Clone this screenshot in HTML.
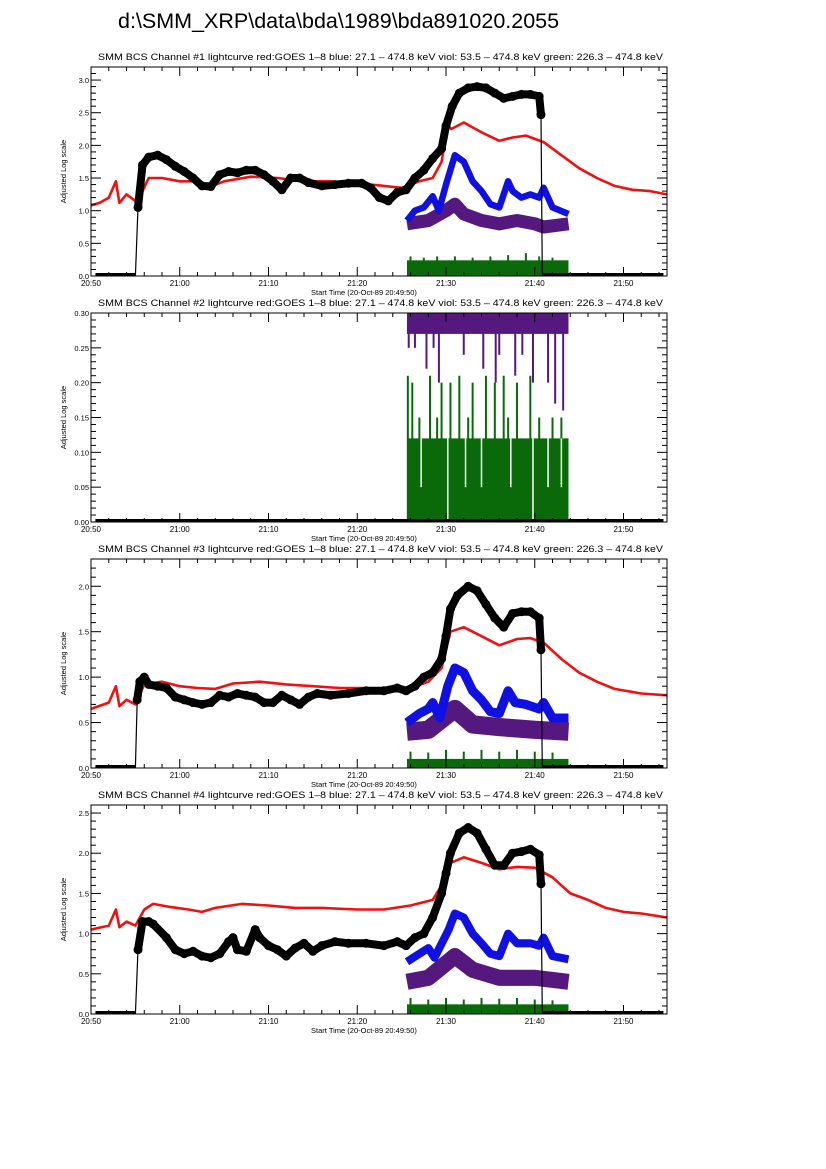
<!DOCTYPE html>
<html><head><meta charset="utf-8"><style>
html,body{margin:0;padding:0;background:#fff;}
svg{display:block;font-family:"Liberation Sans",sans-serif;}
</style></head><body>
<svg id="fig" width="826" height="1169" viewBox="0 0 826 1169" xmlns="http://www.w3.org/2000/svg">
<text x="118" y="28" font-size="21.5" fill="#000">d:\SMM_XRP\data\bda\1989\bda891020.2055</text>
</svg>
<script>
// ---- data (t = minutes after 20:50) ----
const xTickLabels = ["20:50","21:00","21:10","21:20","21:30","21:40","21:50"];
const panelTitles = ["SMM BCS Channel #1 lightcurve","SMM BCS Channel #2 lightcurve","SMM BCS Channel #3 lightcurve","SMM BCS Channel #4 lightcurve"];
const panelYMax = [3.2, 0.3, 2.3, 2.6];
const panelYStep = [0.5, 0.05, 0.5, 0.5];

const black1 = [[0.5,0],[5,0],[5.3,1.05],[5.8,1.7],[6.5,1.82],[7.5,1.85],[8.5,1.78],[9.5,1.68],[10.5,1.6],[11.5,1.5],[12.5,1.38],[13.5,1.37],[14.5,1.55],[15.5,1.6],[16.5,1.58],[17.5,1.62],[18.5,1.62],[19.5,1.55],[20.5,1.45],[21.5,1.32],[22.5,1.5],[23.5,1.5],[24.5,1.43],[26,1.38],[27.5,1.4],[29,1.42],[30.5,1.42],[31.5,1.35],[32.5,1.2],[33.5,1.15],[34.5,1.28],[35.5,1.32],[36.5,1.5],[37.5,1.62],[38.5,1.8],[39.5,1.95],[40,2.3],[40.7,2.6],[41.5,2.8],[42.5,2.88],[43.5,2.9],[44.5,2.88],[45.5,2.8],[46.5,2.72],[47.5,2.75],[48.5,2.78],[49.5,2.78],[50.5,2.75],[50.7,2.47],[50.85,0],[64.5,0]];
const red1 = [[0,1.08],[1,1.12],[2,1.2],[2.8,1.45],[3.2,1.12],[4,1.25],[5,1.15],[5.8,1.3],[6.5,1.5],[8,1.5],[10,1.45],[12,1.45],[13.5,1.37],[15,1.45],[18,1.52],[21,1.5],[24,1.45],[27,1.45],[30,1.42],[33,1.38],[35,1.35],[37,1.45],[38.5,1.5],[39.5,1.75],[40.2,2.3],[40.6,2.25],[42,2.35],[44,2.2],[46,2.07],[47.5,2.12],[49,2.15],[51,2.05],[53,1.85],[55,1.65],[57,1.5],[59,1.38],[61,1.32],[63,1.3],[64.9,1.25]];
const blue1 = [[35.6,0.85],[36.5,1.0],[37.5,1.05],[38.5,1.22],[39.2,1.0],[40,1.4],[41,1.85],[42,1.75],[43,1.45],[44,1.3],[45,1.1],[46,1.05],[47,1.45],[47.5,1.3],[48.5,1.2],[49.5,1.25],[50.5,1.2],[51,1.35],[52,1.05],[53.8,0.95]];
const viol1 = [[35.6,0.8],[38,0.85],[40,1.0],[41,1.1],[42,0.95],[44,0.85],[46,0.8],[48,0.85],[50,0.8],[51,0.75],[53.8,0.8]];
const green1 = {level:0.24, spikes:[[36,0.3],[37.5,0.28],[39,0.3],[41,0.3],[43,0.28],[45,0.3],[47,0.32],[49,0.35],[50.5,0.3],[52,0.28]]};

const black2 = [[0.5,0],[64.5,0]];
const green2 = {level:0.12, spikes:[[35.7,0.21],[36.2,0.2],[38.2,0.21],[39.5,0.2],[40.5,0.2],[41.5,0.21],[43,0.2],[44.5,0.21],[45.5,0.2],[46.5,0.21],[48,0.2],[49.5,0.21],[52,0.15],[37,0.15],[39,0.15],[42.5,0.15],[47,0.15],[50.5,0.15],[53,0.15]], gaps:[[37.2,0.05],[40.2,0.0],[42.2,0.05],[44,0.05],[47.3,0.05],[49.8,0.0],[51.5,0.05],[53,0.05]]};
const viol2 = {bottom:0.27, spikes:[[35.8,0.25],[36.5,0.25],[37.8,0.22],[38.6,0.25],[39.2,0.2],[42,0.24],[44.2,0.22],[45.6,0.2],[46,0.24],[47.8,0.21],[48.6,0.24],[49.8,0.2],[51.5,0.2],[52.3,0.17],[53.2,0.16]]};

const black3 = [[0.5,0],[5,0],[5.2,0.75],[5.5,0.95],[6,1.0],[6.5,0.92],[7.5,0.9],[8.5,0.88],[9.5,0.78],[10.5,0.75],[11.5,0.72],[12.5,0.7],[13.5,0.72],[14.5,0.8],[15.5,0.78],[16.5,0.82],[17.5,0.8],[18.5,0.78],[19.5,0.72],[20.5,0.72],[21.5,0.8],[22.5,0.75],[23.5,0.7],[24.5,0.78],[25.5,0.82],[27,0.8],[29,0.82],[31,0.85],[33,0.85],[34.5,0.88],[35.5,0.85],[36.5,0.9],[37.5,1.0],[38.5,1.05],[39.5,1.2],[40,1.45],[40.5,1.75],[41.3,1.9],[42.5,2.0],[43.5,1.95],[44.5,1.8],[45.5,1.65],[46.5,1.55],[47.5,1.7],[48.5,1.72],[49.5,1.72],[50.5,1.65],[50.7,1.3],[50.85,0],[64.5,0]];
const red3 = [[0,0.65],[2,0.72],[2.8,0.9],[3.2,0.68],[4,0.75],[5,0.7],[6,0.92],[8,0.95],[10,0.9],[12,0.88],[14,0.87],[16,0.93],[19,0.95],[22,0.92],[25,0.9],[28,0.88],[31,0.88],[34,0.85],[36,0.88],[38,0.95],[39.5,1.1],[40.5,1.5],[42,1.55],[44,1.45],[46,1.35],[48,1.42],[49.5,1.43],[51,1.38],[53,1.2],[55,1.05],[57,0.95],[59,0.87],[62,0.82],[64.9,0.8]];
const blue3 = [[35.6,0.5],[37,0.6],[38,0.65],[38.5,0.72],[39.3,0.55],[40.2,0.9],[41,1.1],[42,1.05],[43,0.85],[44,0.75],[45,0.62],[46,0.6],[47,0.85],[47.8,0.72],[49,0.7],[50.5,0.65],[51,0.72],[52,0.55],[53.8,0.55]];
const viol3 = [[35.6,0.4],[38,0.42],[41,0.65],[43,0.48],[46,0.45],[50,0.42],[53.8,0.4]];
const green3 = {level:0.1, spikes:[[36,0.18],[38,0.17],[40,0.2],[42,0.18],[44,0.2],[46,0.18],[48,0.2],[50,0.18],[52,0.17]]};

const black4 = [[0.5,0],[5,0],[5.3,0.8],[5.8,1.15],[6.5,1.15],[7,1.12],[8.5,0.95],[9.5,0.8],[10.5,0.75],[11.5,0.78],[12.5,0.72],[13.5,0.7],[14.5,0.75],[15.5,0.9],[16,0.95],[16.5,0.8],[17.5,0.78],[18.5,1.05],[19,0.95],[20,0.85],[21,0.8],[22,0.72],[23,0.82],[24,0.88],[25,0.78],[26,0.85],[27.5,0.9],[29,0.88],[31,0.88],[33,0.85],[34.5,0.9],[35.5,0.85],[36.5,0.95],[37.5,1.0],[38.5,1.2],[39.5,1.5],[40,1.75],[40.5,2.0],[41.5,2.25],[42.5,2.32],[43.5,2.25],[44.5,2.05],[45.5,1.85],[46.5,1.85],[47.5,2.0],[48.5,2.02],[49.5,2.05],[50.5,1.98],[50.7,1.62],[50.85,0],[64.5,0]];
const red4 = [[0,1.05],[2,1.1],[2.8,1.3],[3.2,1.08],[4,1.15],[5,1.1],[6,1.3],[7,1.37],[9,1.33],[11,1.3],[12.5,1.27],[14,1.32],[17,1.37],[20,1.35],[23,1.32],[26,1.32],[30,1.3],[33,1.3],[36,1.35],[38.5,1.42],[39.5,1.6],[40.5,1.88],[42,1.95],[44,1.88],[46,1.8],[48,1.83],[50,1.82],[52,1.7],[54,1.5],[56,1.42],[58,1.32],[60,1.27],[62,1.25],[64.9,1.2]];
const blue4 = [[35.6,0.65],[37,0.75],[38,0.82],[38.7,0.7],[40.3,1.05],[41,1.25],[42,1.2],[43,1.0],[44,0.88],[45,0.75],[46,0.72],[47,1.0],[48,0.88],[49.5,0.88],[50.5,0.85],[51,0.95],[52,0.72],[53.8,0.68]];
const viol4 = [[35.6,0.4],[38,0.45],[41,0.72],[43,0.55],[46,0.45],[50,0.45],[53.8,0.4]];
const green4 = {level:0.12, spikes:[[36,0.2],[38,0.18],[40,0.2],[42,0.18],[44,0.2],[46,0.19],[48,0.2],[50,0.18],[52,0.17]]};

// ---- drawing ----
const NS="http://www.w3.org/2000/svg";
const svg=document.getElementById('fig');
const X0=91, X1=667, TMAX=64.9;
function xs(t){return X0+(t/TMAX)*(X1-X0);}
function mk(tag,attrs,parent){const e=document.createElementNS(NS,tag);for(const k in attrs)e.setAttribute(k,attrs[k]);(parent||svg).appendChild(e);return e;}

function panel(i, black, red, blue, viol, green){
  const top=67+246*i, bot=top+209, ymax=panelYMax[i];
  const ys=v=>bot-(v/ymax)*(bot-top);
  const g=mk('g',{});
  
  
  const clipId='clip'+i;
  const cp=mk('clipPath',{id:clipId},g);
  mk('rect',{x:X0,y:top,width:X1-X0,height:bot-top},cp);
  const plot=mk('g',{'clip-path':'url(#'+clipId+')'},g);
  const tt=mk('text',{x:98,y:top-7,'font-size':'9',textLength:'565',lengthAdjust:'spacingAndGlyphs'},g);
  tt.textContent=panelTitles[i]+"  red:GOES 1\u20138  blue: 27.1 \u2013 474.8 keV  viol: 53.5 \u2013 474.8 keV  green: 226.3 \u2013 474.8 keV";
  
  
  if(green){
    const r=mk('rect',{x:xs(35.6),y:ys(green.level),width:xs(53.8)-xs(35.6),height:ys(0)-ys(green.level),fill:'#0a6a0a'},plot);
    
    
    green.spikes.forEach(s=>{const l=mk('line',{x1:xs(s[0]),x2:xs(s[0]),y1:ys(0),y2:ys(s[1]),stroke:'#0a6a0a','stroke-width':2},plot);
      
      });
    (green.gaps||[]).forEach(s=>{const l=mk('line',{x1:xs(s[0]),x2:xs(s[0]),y1:ys(s[1]),y2:ys(green.level),stroke:'#fff','stroke-width':1.5},plot);
      
      });
  }
  const line=(pts,color,w,name,cap)=>{const p=mk('polyline',{points:pts.map(q=>xs(q[0]).toFixed(1)+','+ys(q[1]).toFixed(1)).join(' '),fill:'none',stroke:color,'stroke-width':w,'stroke-linejoin':'round','stroke-linecap':cap||'butt'},plot);
    
    return p;};
  if(viol){
    if(Array.isArray(viol)) line(viol,'#55187f',Math.max(12,(bot-top)*0.2/ymax),'violet-series');
    else{
      const r=mk('rect',{x:xs(35.6),y:ys(ymax),width:xs(53.8)-xs(35.6),height:ys(viol.bottom)-ys(ymax),fill:'#55187f'},plot);
      
      
      viol.spikes.forEach(s=>{const l=mk('line',{x1:xs(s[0]),x2:xs(s[0]),y1:ys(ymax),y2:ys(s[1]),stroke:'#55187f','stroke-width':2},plot);
        
        });
    }
  }
  if(blue) line(blue,'#1010e0',Math.max(6,(bot-top)*0.1/ymax),'blue-series');
  if(red) line(red,'#f01010',2.6,'red-series','round');
  line(black,'#000',1.2,'black-line');
  const nz=black.filter(p=>p[1]>0);
  if(nz.length){line(nz,'#000',8,'black-dots-band','round');
    nz.forEach(p=>{const c=mk('circle',{cx:xs(p[0]),cy:ys(p[1]),r:4.5,fill:'#000'},plot);
      
      });}
  const zl=mk('line',{x1:xs(0.5),x2:xs(5),y1:ys(0)-1.5,y2:ys(0)-1.5,stroke:'#000','stroke-width':3},plot);
  
  
  const zl2=mk('line',{x1:xs(black.length>2?50.85:0.5),x2:xs(64.5),y1:ys(0)-1.5,y2:ys(0)-1.5,stroke:'#000','stroke-width':3},plot);
  
  
  const fr=mk('rect',{x:X0,y:top,width:X1-X0,height:bot-top,fill:'none',stroke:'#000','stroke-width':1},g);
  
  
  for(let m=0;m<=64;m+=2){const maj=m%10===0;const L=maj?9:4;
    mk('line',{x1:xs(m),x2:xs(m),y1:bot,y2:bot-L,stroke:'#000'},g);
    mk('line',{x1:xs(m),x2:xs(m),y1:top,y2:top+L,stroke:'#000'},g);}
  xTickLabels.forEach((lab,k)=>{const t=mk('text',{x:xs(k*10),y:bot+10,'font-size':'8','text-anchor':'middle'},g);t.textContent=lab;
    
    });
  const st=mk('text',{x:364,y:bot+19,'font-size':'7.5','text-anchor':'middle'},g);st.textContent='Start Time (20-Oct-89 20:49:50)';
  
  
  const step=panelYStep[i], minor=step/5;
  for(let k=0;k*minor<=ymax+1e-9;k++){const v=k*minor;const maj=k%5===0;const L=maj?10:5;
    mk('line',{x1:X0,x2:X0+L,y1:ys(v),y2:ys(v),stroke:'#000'},g);
    mk('line',{x1:X1,x2:X1-L,y1:ys(v),y2:ys(v),stroke:'#000'},g);
    if(maj){const t=mk('text',{x:X0-2,y:ys(v)+3,'font-size':'7.5','text-anchor':'end'},g);t.textContent=v.toFixed(i===1?2:1);
      
      }}
  const yl=mk('text',{x:0,y:0,'font-size':'7.5','text-anchor':'middle',transform:'translate(66,'+((top+bot)/2)+') rotate(-90)'},g);
  yl.textContent='Adjusted Log scale';
  
  
}
panel(0,black1,red1,blue1,viol1,green1);
panel(1,black2,null,null,viol2,green2);
panel(2,black3,red3,blue3,viol3,green3);
panel(3,black4,red4,blue4,viol4,green4);
</script>
</body></html>
